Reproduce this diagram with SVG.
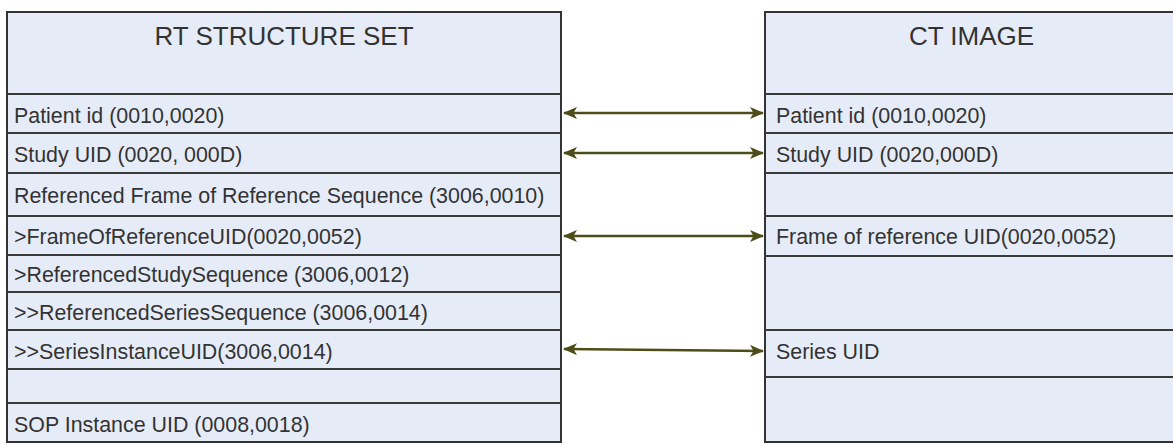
<svg xmlns="http://www.w3.org/2000/svg" width="1173" height="444" viewBox="0 0 1173 444">
<style>
.box{fill:#e6ecf7;stroke:#333;stroke-width:2}
.row{stroke:#3a3a3a;stroke-width:2}
.hdr{font-family:"Liberation Sans",Arial,sans-serif;font-size:26px;fill:#333;text-anchor:middle}
.txt{font-family:"Liberation Sans",Arial,sans-serif;font-size:21.4px;fill:#333}
.conn{stroke:#4d4d1a;stroke-width:2.5;fill:none;marker-start:url(#ah);marker-end:url(#ah)}
</style>
<defs>
<marker id="ah" viewBox="0 0 14 12" refX="13" refY="6" markerWidth="14" markerHeight="12" markerUnits="userSpaceOnUse" orient="auto-start-reverse">
<path d="M0,0 L14,6 L0,12 L3.5,6 Z" fill="#4d4d1a"/>
</marker>
</defs>
<rect width="1173" height="444" fill="#fff"/>
<g id="rt-structure-set">
<rect class="box" x="7" y="12" width="554" height="430"/>
<line class="row" x1="7" y1="94" x2="561" y2="94"/>
<line class="row" x1="7" y1="133" x2="561" y2="133"/>
<line class="row" x1="7" y1="173" x2="561" y2="173"/>
<line class="row" x1="7" y1="216" x2="561" y2="216"/>
<line class="row" x1="7" y1="255" x2="561" y2="255"/>
<line class="row" x1="7" y1="292" x2="561" y2="292"/>
<line class="row" x1="7" y1="330" x2="561" y2="330"/>
<line class="row" x1="7" y1="369" x2="561" y2="369"/>
<line class="row" x1="7" y1="403" x2="561" y2="403"/>
<text class="hdr" x="284" y="45">RT STRUCTURE SET</text>
<text class="txt" x="14" y="122.5">Patient id (0010,0020)</text>
<text class="txt" x="14" y="161.5">Study UID (0020, 000D)</text>
<text class="txt" x="14" y="202.5">Referenced Frame of Reference Sequence (3006,0010)</text>
<text class="txt" x="14" y="244">&gt;FrameOfReferenceUID(0020,0052)</text>
<text class="txt" x="14" y="282">&gt;ReferencedStudySequence (3006,0012)</text>
<text class="txt" x="14" y="320">&gt;&gt;ReferencedSeriesSequence (3006,0014)</text>
<text class="txt" x="14" y="358.5">&gt;&gt;SeriesInstanceUID(3006,0014)</text>
<text class="txt" x="14" y="431.5">SOP Instance UID (0008,0018)</text>
</g>
<g id="ct-image">
<rect class="box" x="765" y="12" width="413" height="430"/>
<line class="row" x1="765" y1="94" x2="1178" y2="94"/>
<line class="row" x1="765" y1="133" x2="1178" y2="133"/>
<line class="row" x1="765" y1="173" x2="1178" y2="173"/>
<line class="row" x1="765" y1="216" x2="1178" y2="216"/>
<line class="row" x1="765" y1="256" x2="1178" y2="256"/>
<line class="row" x1="765" y1="330" x2="1178" y2="330"/>
<line class="row" x1="765" y1="377" x2="1178" y2="377"/>
<text class="hdr" x="971.5" y="45">CT IMAGE</text>
<text class="txt" x="776" y="122.5">Patient id (0010,0020)</text>
<text class="txt" x="776" y="161.5">Study UID (0020,000D)</text>
<text class="txt" x="776" y="244">Frame of reference UID(0020,0052)</text>
<text class="txt" x="776" y="359">Series UID</text>
</g>
<g id="connectors">
<line class="conn" x1="564" y1="113" x2="763" y2="113"/>
<line class="conn" x1="564" y1="153" x2="763" y2="153"/>
<line class="conn" x1="564" y1="236" x2="763" y2="236"/>
<line class="conn" x1="564" y1="349" x2="763" y2="351"/>
</g>
</svg>
